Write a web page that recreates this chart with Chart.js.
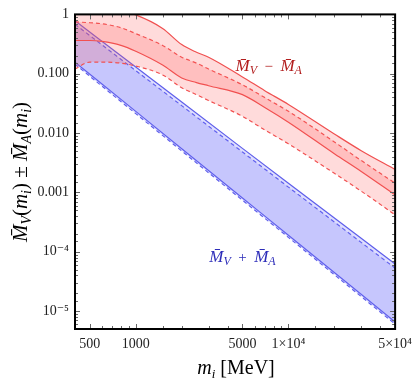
<!DOCTYPE html>
<html>
<head>
<meta charset="utf-8">
<script src="https://cdn.jsdelivr.net/npm/chart.js@4.4.1/dist/chart.umd.min.js"></script>
<style>
html, body { margin: 0; padding: 0; background: #fff; }
#wrap { width: 419px; height: 385px; position: relative; }
</style>
</head>
<body>
<div id="wrap"><canvas id="graph"></canvas></div>
<script>
const mass = [400, 500, 600, 800, 1000, 1500, 2000, 2500, 3000, 5000, 7000, 10000, 20000, 30000, 50000]
// M_V - M_A : solid band
const diffSolidHi = [1.7, 1.5, 1.35, 1.15, 0.98, 0.58, 0.31, 0.23, 0.19, 0.0885, 0.0519, 0.0304, 0.00966, 0.00505, 0.00244]
const diffSolidLo = [0.363, 0.363, 0.35, 0.30, 0.239, 0.140, 0.085, 0.071, 0.0628, 0.0445, 0.0271, 0.0153, 0.0045, 0.00226, 0.00091]
// M_V - M_A : dashed band
const diffDashHi = [0.751, 0.723, 0.696, 0.597, 0.475, 0.300, 0.190, 0.151, 0.120, 0.0652, 0.0397, 0.0233, 0.0071, 0.00345, 0.00143]
const diffDashLo = [0.120, 0.157, 0.157, 0.151, 0.135, 0.0955, 0.0582, 0.0445, 0.0354, 0.0192, 0.0113, 0.00659, 0.0021, 0.00105, 0.00042]

// M_V + M_A (nearly straight in log-log)
const sumMass = [400, 1000, 5000, 10000, 50000]
const sumSolidHi = [0.78, 0.130, 0.00553, 0.00143, 6.25e-5]
const sumSolidLo = [0.157, 0.0232, 8.07e-4, 1.9e-4, 6.57e-6]
const sumDashHi = [0.68, 0.113, 0.0048, 0.00123, 5.3e-5]
const sumDashLo = [0.145, 0.0213, 7.4e-4, 1.75e-4, 6.05e-6]

const xTickLabels = {500: '500', 1000: '1000', 5000: '5000', 10000: '1\u00d710\u2074', 50000: '5\u00d710\u2074'}
const yTickLabels = [[1, '1'], [0.1, '0.100'], [0.01, '0.010'], [0.001, '0.001'], [1e-4, '10\u207b\u2074'], [1e-5, '10\u207b\u2075']]

const red = 'rgb(240,80,80)'
const redFill = 'rgba(255,90,90,0.22)'
const blue = 'rgb(95,95,235)'
const blueFill = 'rgba(110,110,250,0.22)'

function pts(xs, ys) {
	return xs.map((x, i) => ({x: x, y: ys[i]}))
}

function line(data, color, dashed, fill, bg) {
	return {
		data: data,
		borderColor: color,
		borderWidth: 1.2,
		borderDash: dashed ? [4, 3] : [],
		pointRadius: 0,
		fill: fill,
		backgroundColor: bg || 'transparent',
		cubicInterpolationMode: 'monotone'
	}
}

function yLabel(v) {
	for (const [t, s] of yTickLabels) {
		if (Math.abs(Math.log10(v) - Math.log10(t)) < 1e-6) return s
	}
	return ''
}

function xLabel(v) {
	return xTickLabels[Math.round(v)] || ''
}

// draws pieces of text one after another: [text, font, dy]
function drawParts(ctx, parts, x, y, center) {
	let w = 0
	parts.forEach(p => { ctx.font = p[1]; w += ctx.measureText(p[0]).width })
	let cx = center ? x - w / 2 : x
	parts.forEach(p => {
		ctx.font = p[1]
		ctx.fillText(p[0], cx, y + (p[2] || 0))
		cx += ctx.measureText(p[0]).width
	})
}

const serif = '"Liberation Serif", "DejaVu Serif", serif'

const decor = {
	id: 'decor',
	afterDraw(chart) {
		const ctx = chart.ctx
		const a = chart.chartArea
		const xs = chart.scales.x
		const ys = chart.scales.y
		ctx.save()
		// inward ticks
		ctx.strokeStyle = '#666'
		ctx.lineWidth = 1
		ctx.beginPath()
		xs.ticks.forEach(t => {
			const px = Math.round(xs.getPixelForValue(t.value)) + 0.5
			const len = xLabel(t.value) ? 5 : 3
			ctx.moveTo(px, a.bottom); ctx.lineTo(px, a.bottom - len)
			ctx.moveTo(px, a.top); ctx.lineTo(px, a.top + len)
		})
		ys.ticks.forEach(t => {
			const py = Math.round(ys.getPixelForValue(t.value)) + 0.5
			const len = yLabel(t.value) ? 5 : 3
			ctx.moveTo(a.left, py); ctx.lineTo(a.left + len, py)
			ctx.moveTo(a.right, py); ctx.lineTo(a.right - len, py)
		})
		ctx.stroke()
		// frame
		ctx.strokeStyle = '#000'
		ctx.lineWidth = 2
		ctx.strokeRect(a.left, a.top, a.right - a.left, a.bottom - a.top)

		const it = s => 'italic ' + s + 'px ' + serif
		const rm = s => s + 'px ' + serif
		ctx.textBaseline = 'alphabetic'
		ctx.fillStyle = '#000'
		// x title
		drawParts(ctx, [['m', it(20)], ['i', it(13), 4], [' [MeV]', rm(20)]], 236, 374, true)
		// y title
		ctx.save()
		ctx.translate(27, 172)
		ctx.rotate(-Math.PI / 2)
		drawParts(ctx, [
			['M\u0304', it(21)], ['V', it(14), 4], ['(', rm(21)], ['m', it(21)], ['i', it(14), 4], [')', rm(21)],
			[' \u00b1 ', rm(21)],
			['M\u0304', it(21)], ['A', it(14), 4], ['(', rm(21)], ['m', it(21)], ['i', it(14), 4], [')', rm(21)]
		], 0, 0, true)
		ctx.restore()
		// curve labels
		ctx.fillStyle = 'rgb(178,30,30)'
		drawParts(ctx, [['M\u0304', it(17)], ['V', it(12), 3], ['  \u2212  ', rm(15)], ['M\u0304', it(17)], ['A', it(12), 3]],
			xs.getPixelForValue(4500), ys.getPixelForValue(0.11), false)
		ctx.fillStyle = 'rgb(45,45,185)'
		drawParts(ctx, [['M\u0304', it(17)], ['V', it(12), 3], ['  +  ', rm(15)], ['M\u0304', it(17)], ['A', it(12), 3]],
			xs.getPixelForValue(3030), ys.getPixelForValue(6.75e-5), false)
		ctx.restore()
	}
}

new Chart(document.getElementById('graph'), {
	type: 'line',
	data: {
		datasets: [
			line(pts(mass, diffSolidHi), red, false, '+1', redFill),
			line(pts(mass, diffSolidLo), red, false, false),
			line(pts(mass, diffDashHi), red, true, '+1', redFill),
			line(pts(mass, diffDashLo), red, true, false),
			line(pts(sumMass, sumSolidHi), blue, false, '+1', blueFill),
			line(pts(sumMass, sumSolidLo), blue, false, false),
			line(pts(sumMass, sumDashHi), blue, true, '+1', blueFill),
			line(pts(sumMass, sumDashLo), blue, true, false)
		]
	},
	options: {
		responsive: true,
		maintainAspectRatio: false,
		animation: false,
		layout: {padding: {left: 0, right: 22, top: 8, bottom: 0}},
		plugins: {legend: {display: false}, tooltip: {enabled: false}},
		scales: {
			x: {
				type: 'logarithmic',
				min: 400,
				max: 50000,
				grid: {display: false, drawTicks: false},
				border: {display: false},
				ticks: {
					autoSkip: false, maxRotation: 0, padding: 7,
					color: '#222', font: {family: serif, size: 14},
					callback: v => xLabel(v)
				},
				afterFit: s => { s.height = 56 }
			},
			y: {
				type: 'logarithmic',
				min: 5e-6,
				max: 1,
				grid: {display: false, drawTicks: false},
				border: {display: false},
				ticks: {
					autoSkip: false, padding: 6,
					color: '#222', font: {family: serif, size: 14},
					callback: v => yLabel(v)
				},
				afterFit: s => { s.width = 75 }
			}
		}
	},
	plugins: [decor]
})
</script>
</body>
</html>
